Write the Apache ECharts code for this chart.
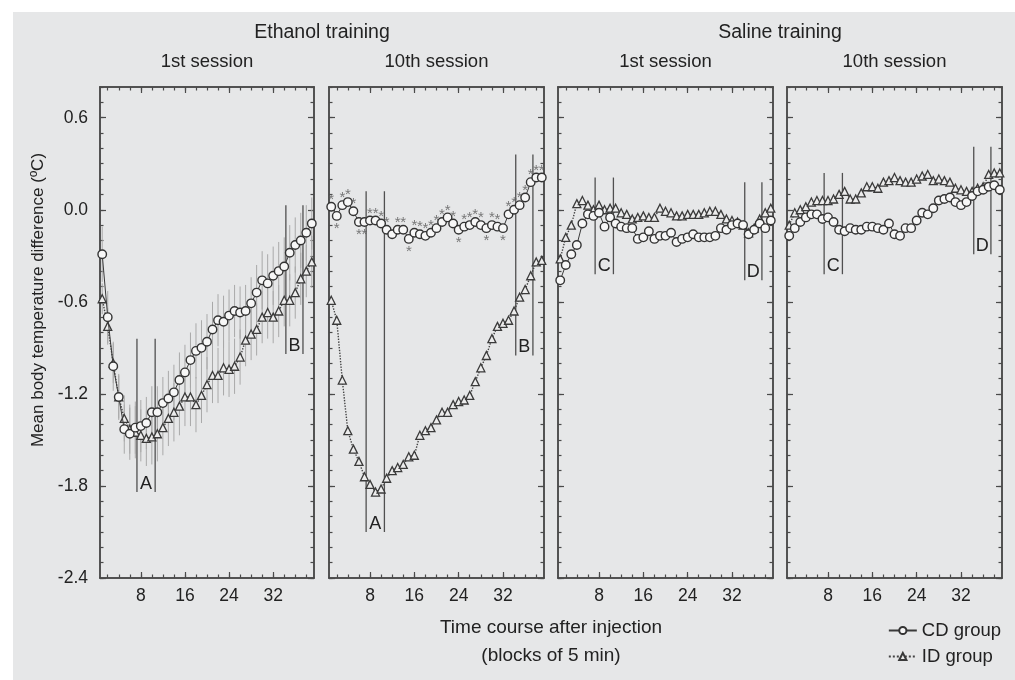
<!DOCTYPE html>
<html><head><meta charset="utf-8">
<script src="https://cdn.jsdelivr.net/npm/echarts@6/dist/echarts.min.js"></script>
<style>
html,body{margin:0;padding:0;background:#ffffff;}
#bg{position:absolute;left:13px;top:12px;width:1002px;height:668px;background:#e6e7e8;}
#chart{position:absolute;left:0;top:0;width:1015px;height:680px;}
</style></head><body>
<div id="bg"></div><div id="chart"></div>
<script>
// ---------------- data ----------------
const blocks = [1,2,3,4,5,6,7,8,9,10,11,12,13,14,15,16,17,18,19,20,21,22,23,24,25,26,27,28,29,30,31,32,33,34,35,36,37,38,39];
const groupTitles = ['Ethanol training', 'Saline training'];
const sessionTitles = ['1st session', '10th session', '1st session', '10th session'];
const xTickLabels = [8, 16, 24, 32];
const yTickLabels = [-2.4, -1.8, -1.2, -0.6, 0.0, 0.6];
const xAxisTitle = ['Time course after injection', '(blocks of 5 min)'];
const yAxisTitle = 'Mean body temperature difference (ºC)';
const seriesNames = ['CD group', 'ID group'];

// Ethanol training, 1st session
const cdEth1 = [-0.29,-0.70,-1.02,-1.22,-1.43,-1.46,-1.42,-1.41,-1.39,-1.32,-1.32,-1.26,-1.23,-1.19,-1.11,-1.06,-0.98,-0.92,-0.90,-0.86,-0.78,-0.72,-0.73,-0.69,-0.66,-0.67,-0.66,-0.61,-0.54,-0.46,-0.48,-0.43,-0.40,-0.37,-0.28,-0.23,-0.20,-0.15,-0.09];
const idEth1 = [-0.58,-0.76,-1.00,-1.22,-1.36,-1.43,-1.45,-1.47,-1.49,-1.48,-1.46,-1.42,-1.36,-1.32,-1.28,-1.22,-1.22,-1.27,-1.21,-1.14,-1.08,-1.08,-1.03,-1.04,-1.02,-0.96,-0.85,-0.81,-0.78,-0.70,-0.67,-0.70,-0.66,-0.59,-0.59,-0.54,-0.45,-0.40,-0.34];
const cdEth1Sem = [0.18,0.17,0.16,0.15,0.16,0.17,0.17,0.17,0.17,0.17,0.17,0.17,0.18,0.18,0.18,0.18,0.18,0.18,0.18,0.18,0.18,0.17,0.17,0.17,0.17,0.17,0.17,0.17,0.18,0.19,0.19,0.19,0.19,0.19,0.18,0.18,0.18,0.18,0.17];
const idEth1Sem = [0.10,0.12,0.13,0.14,0.15,0.16,0.17,0.17,0.18,0.18,0.18,0.18,0.18,0.19,0.19,0.19,0.19,0.18,0.18,0.18,0.18,0.18,0.18,0.18,0.18,0.18,0.17,0.17,0.17,0.17,0.17,0.17,0.17,0.17,0.17,0.17,0.17,0.17,0.17];

// Ethanol training, 10th session
const cdEth10 = [0.02,-0.04,0.03,0.05,-0.01,-0.08,-0.08,-0.07,-0.07,-0.09,-0.13,-0.16,-0.13,-0.13,-0.19,-0.15,-0.16,-0.17,-0.15,-0.12,-0.08,-0.05,-0.09,-0.13,-0.11,-0.10,-0.08,-0.10,-0.12,-0.10,-0.11,-0.12,-0.03,0.00,0.03,0.08,0.18,0.21,0.21];
const idEth10 = [-0.59,-0.72,-1.11,-1.44,-1.56,-1.64,-1.74,-1.79,-1.84,-1.82,-1.75,-1.70,-1.68,-1.66,-1.61,-1.60,-1.47,-1.44,-1.42,-1.37,-1.32,-1.32,-1.27,-1.25,-1.24,-1.21,-1.12,-1.03,-0.95,-0.84,-0.76,-0.74,-0.72,-0.66,-0.57,-0.52,-0.43,-0.34,-0.33];
// significance asterisk: 1 above the CD point, -1 below, 0 none
const cdEth10Stars = [1,-1,1,1,1,-1,-1,1,1,1, 1,0,1,1,-1,1,1,1,1,1, 1,1,1,-1,1,1,1,1,-1,1, 1,-1,1,1,1,1,1,1,1];

// Saline training, 1st session
const cdSal1 = [-0.46,-0.36,-0.29,-0.23,-0.09,-0.03,-0.04,-0.02,-0.11,-0.05,-0.09,-0.11,-0.12,-0.12,-0.19,-0.18,-0.14,-0.19,-0.17,-0.17,-0.15,-0.21,-0.19,-0.18,-0.16,-0.18,-0.18,-0.18,-0.17,-0.12,-0.13,-0.10,-0.09,-0.10,-0.16,-0.13,-0.09,-0.12,-0.07];
const idSal1 = [-0.32,-0.18,-0.10,0.04,0.06,0.03,0.00,0.03,0.00,0.01,0.01,-0.02,-0.03,-0.06,-0.05,-0.04,-0.05,-0.05,0.01,-0.01,-0.02,-0.04,-0.04,-0.03,-0.03,-0.03,-0.02,-0.01,-0.01,-0.03,-0.06,-0.07,-0.08,-0.10,-0.15,-0.12,-0.06,-0.02,0.01];

// Saline training, 10th session
const cdSal10 = [-0.17,-0.12,-0.08,-0.05,-0.03,-0.03,-0.06,-0.05,-0.08,-0.13,-0.14,-0.12,-0.13,-0.13,-0.11,-0.11,-0.12,-0.13,-0.09,-0.16,-0.17,-0.12,-0.12,-0.07,-0.02,-0.03,0.01,0.06,0.07,0.08,0.05,0.03,0.05,0.09,0.12,0.13,0.15,0.16,0.13];
const idSal10 = [-0.10,-0.02,0.00,0.02,0.05,0.06,0.06,0.06,0.07,0.10,0.12,0.07,0.07,0.11,0.15,0.15,0.14,0.18,0.19,0.21,0.19,0.18,0.18,0.20,0.22,0.23,0.19,0.20,0.19,0.18,0.14,0.13,0.12,0.12,0.14,0.15,0.23,0.24,0.24];

// bracket annotations per panel: [x left, x right, y top, y bottom], with letter
const bracketLabels = [['A','B'], ['A','B'], ['C','D'], ['C','D']];
const brackets = [
  [[7.3, 10.6, -0.84, -1.84], [34.3, 37.4, 0.03, -0.94]],
  [[7.3, 10.6, 0.12, -2.10], [34.3, 37.4, 0.36, -0.95]],
  [[7.3, 10.6, 0.21, -0.42], [34.3, 37.4, 0.18, -0.46]],
  [[7.3, 10.6, 0.24, -0.42], [34.3, 37.4, 0.41, -0.29]]
];

const panelCD = [cdEth1, cdEth10, cdSal1, cdSal10];
const panelID = [idEth1, idEth10, idSal1, idSal10];

// ---------------- layout / style ----------------
const FONT = '"Liberation Sans", Arial, sans-serif';
const X_MIN = 0.6, X_MAX = 39.4, Y_MIN = -2.4, Y_MAX = 0.8;
const panelLeft = [100, 329, 558, 787];
const panelWidth = [214, 215, 215, 215];
const PANEL_TOP = 87, PANEL_H = 491;
const FRAME = '#4a4a4a';

const xMinorTicks = []; for (let k = 2; k <= 38; k += 2) xMinorTicks.push(k);
const yMinorTicks = []; for (let k = -24; k <= 8; k++) yMinorTicks.push(k / 10);

const grids = [], xAxes = [], yAxes = [], series = [];
const tickStyle = { color: FRAME, width: 1.2 };

panelCD.forEach((cd, i) => {
  grids.push({ left: panelLeft[i], top: PANEL_TOP, width: panelWidth[i], height: PANEL_H, show: false, outerBoundsMode: 'none' });
  const axLine = { show: true, onZero: false, lineStyle: { color: FRAME, width: 1.5 } };
  const xb = { type: 'value', gridIndex: i, min: X_MIN, max: X_MAX, splitLine: { show: false }, axisLine: axLine };
  const yb = { type: 'value', gridIndex: i, min: Y_MIN, max: Y_MAX, splitLine: { show: false }, axisLine: axLine };
  xAxes.push(Object.assign({}, xb, { position: 'bottom',
    axisTick: { show: true, inside: true, length: 6, lineStyle: tickStyle, customValues: xTickLabels },
    axisLabel: { show: true, customValues: xTickLabels, margin: 9, color: '#222', fontSize: 17.5, fontFamily: FONT } }));
  xAxes.push(Object.assign({}, xb, { position: 'bottom',
    axisTick: { show: true, inside: true, length: 3.5, lineStyle: tickStyle, customValues: xMinorTicks }, axisLabel: { show: false } }));
  xAxes.push(Object.assign({}, xb, { position: 'top',
    axisTick: { show: true, inside: true, length: 6, lineStyle: tickStyle, customValues: xTickLabels }, axisLabel: { show: false } }));
  xAxes.push(Object.assign({}, xb, { position: 'top',
    axisTick: { show: true, inside: true, length: 3.5, lineStyle: tickStyle, customValues: xMinorTicks }, axisLabel: { show: false } }));

  yAxes.push(Object.assign({}, yb, { position: 'left',
    axisTick: { show: true, inside: true, length: 6, lineStyle: tickStyle, customValues: yTickLabels },
    axisLabel: { show: i === 0, customValues: yTickLabels, margin: 12, color: '#222', fontSize: 17.5, fontFamily: FONT,
      formatter: v => Number(v).toFixed(1) } }));
  yAxes.push(Object.assign({}, yb, { position: 'left',
    axisTick: { show: true, inside: true, length: 3.5, lineStyle: tickStyle, customValues: yMinorTicks }, axisLabel: { show: false } }));
  yAxes.push(Object.assign({}, yb, { position: 'right',
    axisTick: { show: true, inside: true, length: 6, lineStyle: tickStyle, customValues: yTickLabels }, axisLabel: { show: false } }));
  yAxes.push(Object.assign({}, yb, { position: 'right',
    axisTick: { show: true, inside: true, length: 3.5, lineStyle: tickStyle, customValues: yMinorTicks }, axisLabel: { show: false } }));

  const xi = i * 4, yi = i * 4;
  const id = panelID[i];

  // error bars (ethanol 1st session only)
  if (i === 0) {
    [[cd, cdEth1Sem], [id, idEth1Sem]].forEach(([vals, sem], k) => {
      series.push({
        type: 'custom', name: 'sem' + k, xAxisIndex: xi, yAxisIndex: yi, z: 1, silent: true,
        data: blocks.map((b, j) => [b, vals[j] - sem[j], vals[j] + sem[j]]),
        renderItem: (params, api) => {
          const p1 = api.coord([api.value(0), api.value(1)]);
          const p2 = api.coord([api.value(0), api.value(2)]);
          return { type: 'line', shape: { x1: p1[0], y1: p1[1], x2: p2[0], y2: p2[1] },
                   style: { stroke: '#a9a9a9', lineWidth: 1 } };
        }
      });
    });
  }

  // brackets
  series.push({
    type: 'custom', name: 'brackets' + i, xAxisIndex: xi, yAxisIndex: yi, z: 2, silent: true,
    data: brackets[i],
    renderItem: (params, api) => {
      const a = api.coord([api.value(0), api.value(2)]);
      const b = api.coord([api.value(0), api.value(3)]);
      const c = api.coord([api.value(1), api.value(2)]);
      const d = api.coord([api.value(1), api.value(3)]);
      const st = { stroke: '#505050', lineWidth: 1.3 };
      return { type: 'group', children: [
        { type: 'line', shape: { x1: a[0], y1: a[1], x2: b[0], y2: b[1] }, style: st },
        { type: 'line', shape: { x1: c[0], y1: c[1], x2: d[0], y2: d[1] }, style: st },
        { type: 'text', x: (b[0] + d[0]) / 2, y: b[1] + 1,
          style: { text: bracketLabels[i][params.dataIndex], textAlign: 'center', textVerticalAlign: 'bottom',
                   font: '18px ' + FONT, fill: '#222' } }
      ] };
    }
  });

  series.push({
    type: 'line', name: seriesNames[0], xAxisIndex: xi, yAxisIndex: yi, z: 4,
    data: blocks.map((b, j) => [b, cd[j]]),
    symbol: 'circle', symbolSize: 8.5, showSymbol: true,
    lineStyle: { color: '#3a3a3a', width: 1 },
    itemStyle: { color: '#f7f7f7', borderColor: '#333', borderWidth: 1.4 },
    emphasis: { disabled: true }
  });
  series.push({
    type: 'line', name: seriesNames[1], xAxisIndex: xi, yAxisIndex: yi, z: 3,
    data: blocks.map((b, j) => [b, id[j]]),
    symbol: 'triangle', symbolSize: 8, showSymbol: true,
    lineStyle: { color: '#444', width: 1.4, type: 'dotted' },
    itemStyle: { color: '#ececec', borderColor: '#3a3a3a', borderWidth: 1.3 },
    emphasis: { disabled: true }
  });

  if (i === 1) {
    series.push({
      type: 'scatter', name: 'stars', xAxisIndex: xi, yAxisIndex: yi, z: 5, silent: true,
      symbolSize: 1, itemStyle: { color: 'transparent' },
      data: blocks.map((b, j) => ({ value: [b, cd[j]],
        label: { show: cdEth10Stars[j] !== 0, offset: [0, cdEth10Stars[j] > 0 ? -7 : 13] } })),
      label: { show: true, position: 'inside', formatter: '*', fontSize: 15, color: '#5a5a5a', fontFamily: FONT }
    });
  }
});

const graphics = [];
graphics.push({ type: 'text', x: (panelLeft[0] + panelLeft[1] + panelWidth[1]) / 2, y: 33,
  style: { text: groupTitles[0], textAlign: 'center', textVerticalAlign: 'middle', font: '19.5px ' + FONT, fill: '#222' } });
graphics.push({ type: 'text', x: (panelLeft[2] + panelLeft[3] + panelWidth[3]) / 2, y: 33,
  style: { text: groupTitles[1], textAlign: 'center', textVerticalAlign: 'middle', font: '19.5px ' + FONT, fill: '#222' } });
sessionTitles.forEach((t, i) => graphics.push({ type: 'text', x: panelLeft[i] + panelWidth[i] / 2, y: 62,
  style: { text: t, textAlign: 'center', textVerticalAlign: 'middle', font: '18.5px ' + FONT, fill: '#222' } }));
graphics.push({ type: 'text', x: 551, y: 628,
  style: { text: xAxisTitle[0], textAlign: 'center', textVerticalAlign: 'middle', font: '19px ' + FONT, fill: '#222' } });
graphics.push({ type: 'text', x: 551, y: 656,
  style: { text: xAxisTitle[1], textAlign: 'center', textVerticalAlign: 'middle', font: '19px ' + FONT, fill: '#222' } });
graphics.push({ type: 'text', x: 38, y: 300, rotation: Math.PI / 2,
  style: { text: yAxisTitle, textAlign: 'center', textVerticalAlign: 'middle', font: '17px ' + FONT, fill: '#222' } });

const chart = echarts.init(document.getElementById('chart'), null, { renderer: 'canvas' });
chart.setOption({
  animation: false,
  backgroundColor: 'transparent',
  grid: grids, xAxis: xAxes, yAxis: yAxes, series: series,
  graphic: graphics,
  legend: { data: seriesNames, orient: 'vertical', right: 9, top: 616, itemWidth: 28, itemHeight: 9, itemGap: 7,
    selectedMode: false, textStyle: { fontSize: 18.5, color: '#222', fontFamily: FONT } },
  tooltip: { show: false }
});
</script>
</body></html>
